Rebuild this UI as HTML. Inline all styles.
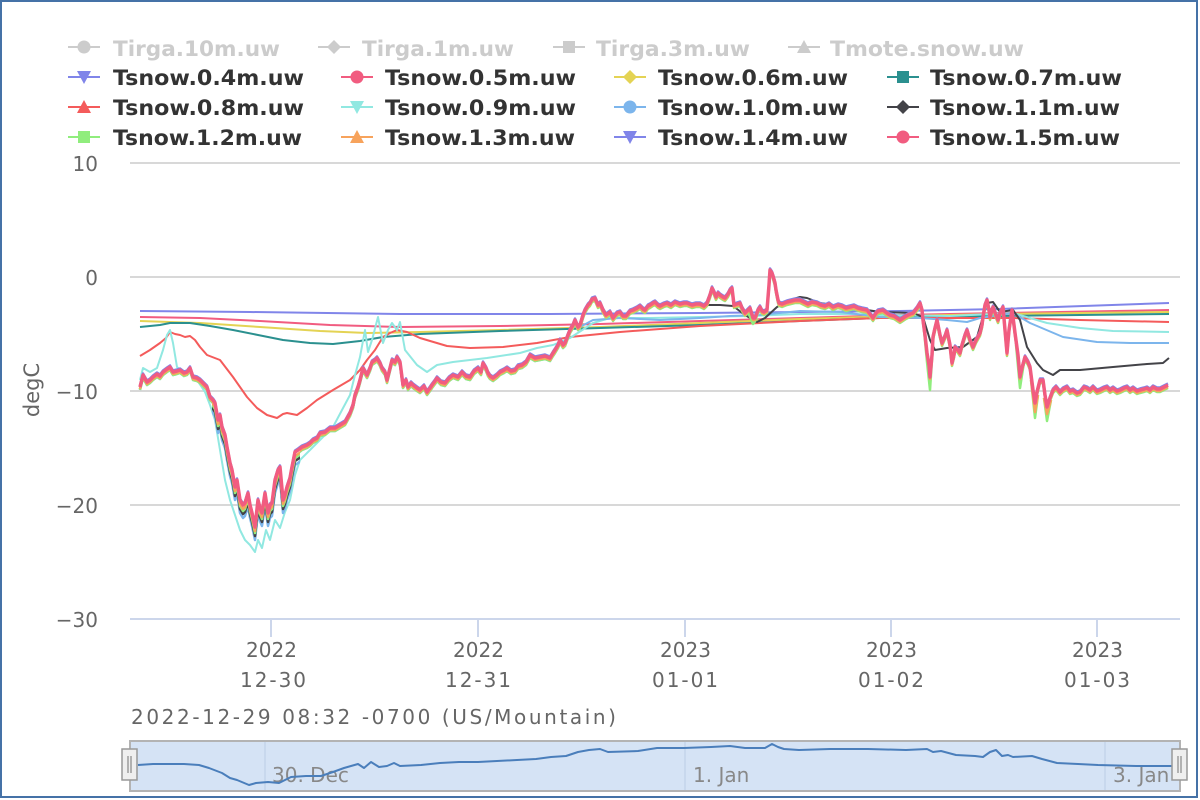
<!DOCTYPE html>
<html><head><meta charset="utf-8"><style>
html,body{margin:0;padding:0;background:#fff;}
#wrap{position:absolute;left:0;top:0;width:1198px;height:798px;box-sizing:border-box;border:2px solid #4572a7;}
svg{position:absolute;left:0;top:0;}
text{font-family:"DejaVu Sans","Liberation Sans",sans-serif;}
</style></head><body>
<div id="wrap"></div>
<svg width="1200" height="800" viewBox="0 0 1200 800" xmlns="http://www.w3.org/2000/svg">
<defs>
<polyline id="n" fill="none" points="140,387 143,375 147,382 150,380 153,377 157,374 160,376 163,372 167,369 170,367 173,372 177,371 180,370 184,373 187,372 190,368 193,377 197,378 200,380 204,384 207,387 210,397 213,400 215,403 218,420 220,415 222,427 225,435 227,447 230,463 232,470 235,487 237,480 240,500 243,505 245,503 248,493 250,505 252,513 255,527 258,500 260,508 262,513 265,493 268,513 270,505 272,503 275,480 278,470 280,467 283,500 285,495 287,487 290,478 292,467 295,452 298,450 302,447 307,445 310,443 313,440 317,438 320,433 325,432 330,428 335,428 340,425 345,422 350,413 353,405 355,395 358,387 360,380 363,368 367,375 370,368 372,362 375,360 377,358 380,363 382,368 385,372 387,380 390,368 392,360 395,362 397,357 400,362 403,385 406,380 408,387 411,383 413,385 417,388 420,390 424,386 427,392 430,388 432,385 435,381 437,378 441,382 445,383 449,378 453,375 458,377 462,372 466,376 470,377 474,371 478,368 481,372 483,363 486,368 488,373 490,376 493,378 497,375 500,372 504,370 507,368 511,371 515,370 518,366 522,365 526,362 530,355 535,358 540,357 545,356 550,358 553,353 555,350 558,345 560,340 563,345 565,343 568,335 570,330 573,325 575,320 578,327 580,325 583,315 585,310 588,305 590,303 592,299 595,298 598,305 600,303 603,310 606,315 610,312 613,318 617,313 620,312 623,316 626,316 630,311 633,310 637,308 640,306 643,309 645,310 648,306 650,305 653,303 655,302 658,305 660,306 664,304 667,303 671,305 675,302 680,304 684,303 687,303 692,305 696,304 700,304 704,306 707,303 710,295 712,288 714,292 716,297 718,293 720,295 723,297 725,298 728,294 730,290 732,288 734,305 737,304 740,303 742,308 745,313 748,310 750,308 753,318 755,318 758,310 760,307 762,311 764,312 767,310 769,285 770,270 772,273 773,276 775,283 776,290 778,300 779,303 782,304 787,302 791,301 795,300 800,300 804,302 808,304 812,302 817,303 821,305 825,306 829,304 833,307 838,305 842,306 846,308 850,307 854,306 858,308 862,309 867,310 870,314 873,318 876,313 878,311 883,310 887,313 890,315 894,316 897,318 900,320 903,318 906,316 910,314 913,313 917,308 920,303 922,310 923,320 925,335 927,353 929,365 930,377 932,355 933,337 935,328 937,320 940,335 942,343 945,336 947,330 950,345 952,363 954,355 955,347 958,350 960,353 962,345 965,335 967,330 970,340 973,347 976,340 980,333 982,325 983,317 985,305 987,300 989,310 990,317 992,310 993,307 996,315 998,320 1000,313 1003,307 1005,330 1007,353 1009,330 1012,310 1014,325 1015,333 1018,355 1020,377 1022,368 1025,357 1028,362 1030,367 1033,390 1035,403 1037,392 1040,380 1043,380 1045,395 1047,407 1050,398 1053,390 1056,387 1060,392 1063,389 1067,387 1070,391 1073,390 1077,393 1080,392 1084,387 1087,388 1090,390 1093,387 1097,391 1100,390 1104,388 1107,387 1110,390 1113,388 1117,391 1120,390 1124,388 1127,387 1130,390 1133,388 1137,391 1140,390 1144,389 1147,388 1150,390 1153,387 1157,389 1160,389 1164,387 1168,385"/>
<clipPath id="cBlackNo"><rect x="130" y="140" width="82" height="480"/><rect x="300" y="140" width="395" height="480"/></clipPath>
<clipPath id="cDip"><rect x="212" y="140" width="88" height="480"/></clipPath>
<clipPath id="cBlueNo"><rect x="130" y="140" width="82" height="480"/><rect x="300" y="140" width="285" height="480"/></clipPath>
<clipPath id="cNo"><rect x="130" y="140" width="82" height="480"/><rect x="300" y="140" width="880" height="480"/></clipPath>
</defs>

<!-- legend -->
<g font-size="21" font-weight="bold">
 <g stroke="#ccc" stroke-width="2" fill="#ccc">
  <line x1="68" y1="47" x2="100" y2="47"/><circle cx="84" cy="47" r="6.5" stroke="none"/>
  <line x1="318" y1="47" x2="350" y2="47"/><path d="M334,40 L341,47 L334,54 L327,47 Z" stroke="none"/>
  <line x1="553" y1="47" x2="585" y2="47"/><rect x="563" y="41" width="12" height="12" stroke="none"/>
  <line x1="788" y1="47" x2="820" y2="47"/><path d="M804,40 L811,53 L797,53 Z" stroke="none"/>
 </g>
 <text x="113" y="56" fill="#ccc" textLength="167" lengthAdjust="spacingAndGlyphs">Tirga.10m.uw</text>
 <text x="362" y="56" fill="#ccc" textLength="152" lengthAdjust="spacingAndGlyphs">Tirga.1m.uw</text>
 <text x="596" y="56" fill="#ccc" textLength="154" lengthAdjust="spacingAndGlyphs">Tirga.3m.uw</text>
 <text x="830" y="56" fill="#ccc" textLength="194" lengthAdjust="spacingAndGlyphs">Tmote.snow.uw</text>

 <g stroke-width="2">
  <line x1="68" y1="77" x2="100" y2="77" stroke="#8085e9"/><path d="M77,71 L91,71 L84,84 Z" fill="#8085e9"/>
  <line x1="341" y1="77" x2="373" y2="77" stroke="#f15c80"/><circle cx="357" cy="77" r="6.5" fill="#f15c80"/>
  <line x1="614" y1="77" x2="646" y2="77" stroke="#e4d354"/><path d="M630,70 L637,77 L630,84 L623,77 Z" fill="#e4d354"/>
  <line x1="887" y1="77" x2="919" y2="77" stroke="#2b908f"/><rect x="897" y="71" width="12" height="12" fill="#2b908f"/>

  <line x1="68" y1="107" x2="100" y2="107" stroke="#f45b5b"/><path d="M84,100 L91,113 L77,113 Z" fill="#f45b5b"/>
  <line x1="341" y1="107" x2="373" y2="107" stroke="#91e8e1"/><path d="M350,101 L364,101 L357,114 Z" fill="#91e8e1"/>
  <line x1="614" y1="107" x2="646" y2="107" stroke="#7cb5ec"/><circle cx="630" cy="107" r="6.5" fill="#7cb5ec"/>
  <line x1="887" y1="107" x2="919" y2="107" stroke="#434348"/><path d="M903,100 L910,107 L903,114 L896,107 Z" fill="#434348"/>

  <line x1="68" y1="137" x2="100" y2="137" stroke="#90ed7d"/><rect x="78" y="131" width="12" height="12" fill="#90ed7d"/>
  <line x1="341" y1="137" x2="373" y2="137" stroke="#f7a35c"/><path d="M357,130 L364,143 L350,143 Z" fill="#f7a35c"/>
  <line x1="614" y1="137" x2="646" y2="137" stroke="#8085e9"/><path d="M623,131 L637,131 L630,144 Z" fill="#8085e9"/>
  <line x1="887" y1="137" x2="919" y2="137" stroke="#f15c80"/><circle cx="903" cy="137" r="6.5" fill="#f15c80"/>
 </g>
 <g fill="#333">
  <text x="113" y="85" textLength="191" lengthAdjust="spacingAndGlyphs">Tsnow.0.4m.uw</text>
  <text x="385" y="85" textLength="191" lengthAdjust="spacingAndGlyphs">Tsnow.0.5m.uw</text>
  <text x="658" y="85" textLength="190" lengthAdjust="spacingAndGlyphs">Tsnow.0.6m.uw</text>
  <text x="930" y="85" textLength="192" lengthAdjust="spacingAndGlyphs">Tsnow.0.7m.uw</text>
  <text x="113" y="115" textLength="191" lengthAdjust="spacingAndGlyphs">Tsnow.0.8m.uw</text>
  <text x="385" y="115" textLength="191" lengthAdjust="spacingAndGlyphs">Tsnow.0.9m.uw</text>
  <text x="658" y="115" textLength="190" lengthAdjust="spacingAndGlyphs">Tsnow.1.0m.uw</text>
  <text x="930" y="115" textLength="190" lengthAdjust="spacingAndGlyphs">Tsnow.1.1m.uw</text>
  <text x="113" y="145" textLength="189" lengthAdjust="spacingAndGlyphs">Tsnow.1.2m.uw</text>
  <text x="385" y="145" textLength="190" lengthAdjust="spacingAndGlyphs">Tsnow.1.3m.uw</text>
  <text x="658" y="145" textLength="190" lengthAdjust="spacingAndGlyphs">Tsnow.1.4m.uw</text>
  <text x="930" y="145" textLength="190" lengthAdjust="spacingAndGlyphs">Tsnow.1.5m.uw</text>
 </g>
</g>

<!-- grid -->
<g stroke="#d8d8d8" stroke-width="2">
 <line x1="130" y1="163" x2="1180" y2="163"/>
 <line x1="130" y1="277" x2="1180" y2="277"/>
 <line x1="130" y1="391" x2="1180" y2="391"/>
 <line x1="130" y1="505" x2="1180" y2="505"/>
</g>
<line x1="130" y1="619" x2="1180" y2="619" stroke="#ccd6eb" stroke-width="2"/>
<g stroke="#ccd6eb" stroke-width="2">
 <line x1="271" y1="619" x2="271" y2="637"/>
 <line x1="478" y1="619" x2="478" y2="637"/>
 <line x1="685" y1="619" x2="685" y2="637"/>
 <line x1="891" y1="619" x2="891" y2="637"/>
 <line x1="1097" y1="619" x2="1097" y2="637"/>
</g>

<!-- y labels -->
<g font-size="20" fill="#666" text-anchor="end">
 <text x="98" y="171">10</text>
 <text x="98" y="285">0</text>
 <text x="98" y="399">−10</text>
 <text x="98" y="513">−20</text>
 <text x="98" y="627">−30</text>
</g>
<text transform="translate(39,390) rotate(-90)" font-size="21" fill="#666" text-anchor="middle">degC</text>

<!-- x labels -->
<g font-size="20" fill="#666">
 <text x="246" y="657" textLength="51">2022</text><text x="240" y="687" textLength="66">12-30</text>
 <text x="453" y="657" textLength="51">2022</text><text x="445" y="687" textLength="66">12-31</text>
 <text x="660" y="657" textLength="51">2023</text><text x="652" y="687" textLength="66">01-01</text>
 <text x="866" y="657" textLength="51">2023</text><text x="858" y="687" textLength="66">01-02</text>
 <text x="1072" y="657" textLength="51">2023</text><text x="1064" y="687" textLength="66">01-03</text>
</g>
<text x="131" y="724" font-size="20" fill="#666" textLength="485">2022-12-29 08:32 -0700 (US/Mountain)</text>

<!-- smooth series -->
<g fill="none" stroke-width="2" stroke-linejoin="round">
 <polyline stroke="#8085e9" points="140,311 250,312 400,314 550,314 700,313 800,312 900,311 1000,309 1169,303"/>
 <polyline stroke="#f15c80" points="140,317 200,318 260,321 330,325 400,327 500,326 600,324 700,321 800,318 900,315 1000,313 1169,310"/>
 <polyline stroke="#e4d354" points="140,321 200,323 260,327 320,331 367,333 420,332 500,330 600,327 700,323 800,319 900,316 1000,314 1169,312"/>
 <polyline stroke="#2b908f" points="140,327 160,325 170,323 190,323 210,326 233,330 258,335 283,340 310,343 333,344 360,341 383,337 420,334 500,331 600,328 700,325 800,321 880,318 1000,316 1169,314"/>
 <polyline stroke="#f45b5b" points="140,356 150,350 160,343 166,338 170,332 175,334 180,335 185,337 190,336 195,340 200,347 207,355 220,360 233,377 247,397 257,408 267,415 277,418 283,414 287,413 297,415 307,408 317,400 333,390 350,380 360,370 367,360 375,350 383,337 390,333 397,330 407,332 420,338 447,346 470,348 503,347 537,343 570,337 620,332 700,326 800,321 880,318 950,318 1013,318 1080,320 1169,322"/>
 <polyline stroke="#91e8e1" points="140,380 143,368 150,372 157,368 163,350 167,335 170,330 173,343 177,367 183,372 190,372 197,380 205,392 210,405 215,420 220,450 225,480 230,500 235,515 240,530 245,540 250,545 255,552 258,540 262,548 266,530 270,540 275,520 280,528 285,512 290,500 295,475 300,460 310,450 320,440 333,427 342,410 350,395 355,375 360,357 365,330 368,352 372,340 378,317 383,343 388,330 392,323 397,330 400,322 405,350 417,365 427,372 437,365 453,362 487,358 520,353 537,348 553,345 570,338 593,323 610,318 650,318 700,317 750,316 800,314 850,314 880,315 950,316 1013,313 1047,323 1080,328 1113,331 1169,332"/>
 <polyline stroke="#7cb5ec" points="580,327 593,320 620,318 660,320 700,318 730,316 760,315 800,311 840,312 880,317 920,318 947,320 967,322 980,318 1013,313 1030,323 1063,337 1097,342 1130,343 1169,343"/>
</g>

<!-- noisy series -->
<g fill="none" stroke-linejoin="round">
 <use href="#n" stroke="#7cb5ec" stroke-width="2.5" transform="translate(0,3)" clip-path="url(#cBlueNo)"/>
 <use href="#n" stroke="#7cb5ec" stroke-width="2.5" transform="translate(0,13)" clip-path="url(#cDip)"/>
 <use href="#n" stroke="#434348" stroke-width="2.5" transform="translate(0,2)" clip-path="url(#cBlackNo)"/>
 <use href="#n" stroke="#434348" stroke-width="2.5" transform="translate(0,9)" clip-path="url(#cDip)"/>
 <polyline stroke="#434348" stroke-width="2" points="690,305 707,305 720,305 733,306 745,315 757,322 765,318 777,307 790,300 800,297 807,298 820,303 840,306 867,310 880,312 913,313 923,317 930,340 935,350 947,348 963,347 977,337 987,303 993,302 1000,312 1013,310 1020,320 1027,347 1037,363 1043,370 1053,375 1060,370 1080,370 1113,367 1147,364 1163,363 1169,358"/>
 <use href="#n" stroke="#90ed7d" stroke-width="2.5" transform="translate(0,3)" clip-path="url(#cNo)"/>
 <use href="#n" stroke="#90ed7d" stroke-width="2.5" transform="translate(0,6)" clip-path="url(#cDip)"/>
 <g stroke="#90ed7d" stroke-width="2.5">
  <polyline points="924,330 927,362 930,390 933,345"/>
  <polyline points="1016,345 1020,388 1024,362"/>
  <polyline points="1031,380 1035,418 1038,395"/>
  <polyline points="1044,398 1047,421 1051,400"/>
  <polyline points="748,312 753,324 757,318"/>
 </g>
 <use href="#n" stroke="#f7a35c" stroke-width="2.5" transform="translate(0,2)" clip-path="url(#cNo)"/>
 <use href="#n" stroke="#f7a35c" stroke-width="2.5" transform="translate(0,4)" clip-path="url(#cDip)"/>
 <g stroke="#f7a35c" stroke-width="2.5">
  <polyline points="1031,380 1035,412 1038,395"/>
  <polyline points="1044,398 1047,414 1051,400"/>
 </g>
 <use href="#n" stroke="#8085e9" stroke-width="2.5" transform="translate(0,-1.5)"/>
 <use href="#n" stroke="#f15c80" stroke-width="3.5"/>
</g>

<!-- navigator -->
<rect x="130" y="741" width="1050" height="50" fill="#d5e3f5" stroke="#b3b3b3" stroke-width="2"/>
<g stroke="#c4d4ea" stroke-width="1.5">
 <line x1="265" y1="742" x2="265" y2="790"/>
 <line x1="685" y1="742" x2="685" y2="790"/>
 <line x1="1105" y1="742" x2="1105" y2="790"/>
</g>
<g font-size="20" fill="#888">
 <text x="272" y="782">30. Dec</text>
 <text x="693" y="782">1. Jan</text>
 <text x="1113" y="782">3. Jan</text>
</g>
<polyline fill="none" stroke="#4a7ebb" stroke-width="2" stroke-linejoin="round" points="138,765 153,764 184,764 199,765 209,768 222,773 230,778 237,780 249,785 256,783 268,782 279,783 291,777 306,776 321,776 333,772 344,768 358,764 364,768 371,762 379,767 387,766 394,763 400,766 421,765 440,763 459,762 478,762 497,761 517,760 536,759 551,757 566,756 578,752 589,750 600,749 608,752 638,751 657,748 684,748 711,747 730,746 745,748 765,748 772,744 778,747 784,749 799,750 830,749 868,749 906,750 927,749 933,752 941,751 956,755 975,756 983,757 990,752 996,750 1002,756 1008,755 1013,757 1032,756 1042,759 1057,763 1078,764 1098,765 1136,766 1172,766"/>
<g fill="#efefef" stroke="#999" stroke-width="1.5">
 <rect x="122" y="749" width="15" height="31"/>
 <rect x="1172" y="749" width="15" height="31"/>
</g>
<g stroke="#888" stroke-width="1.2">
 <line x1="128" y1="756" x2="128" y2="773"/><line x1="131" y1="756" x2="131" y2="773"/>
 <line x1="1178" y1="756" x2="1178" y2="773"/><line x1="1181" y1="756" x2="1181" y2="773"/>
</g>
</svg>
</body></html>
